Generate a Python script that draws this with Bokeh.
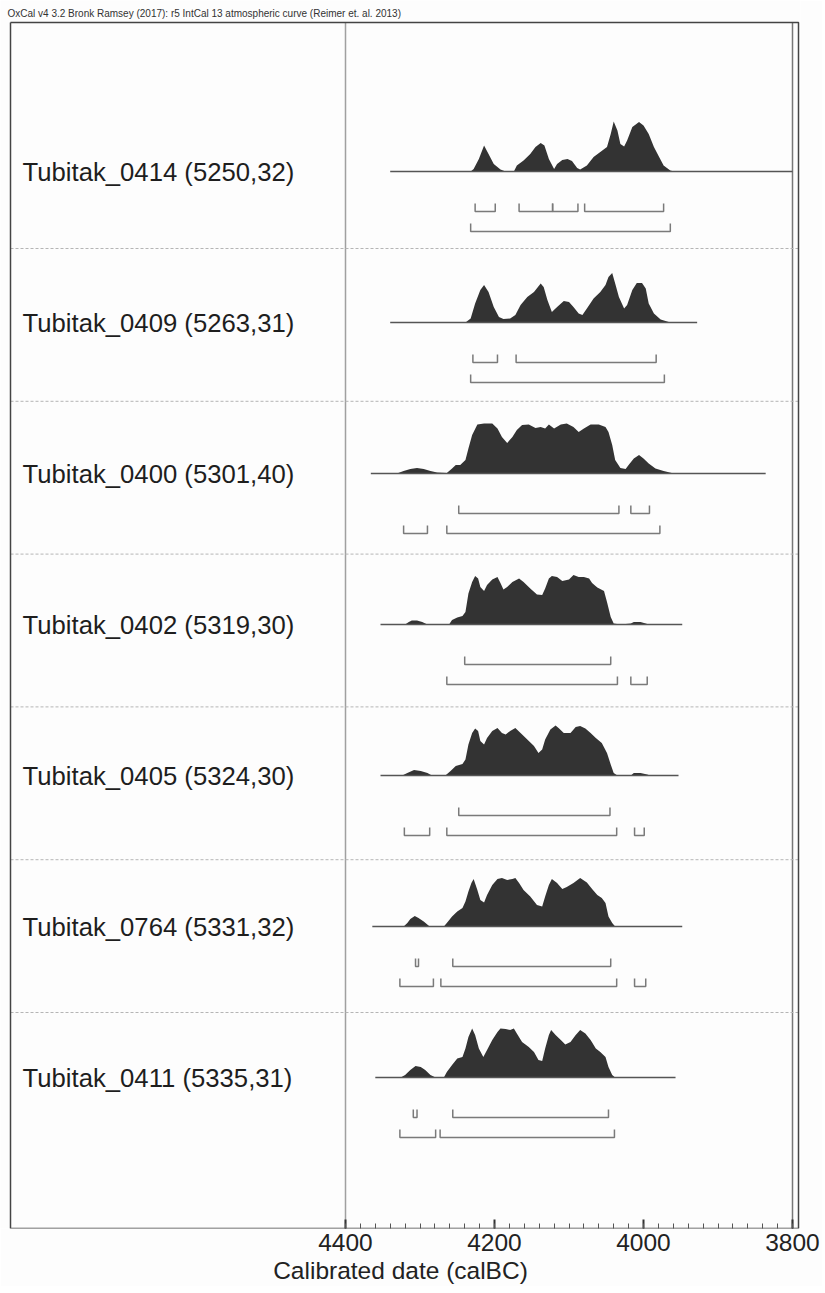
from bokeh.plotting import figure
from bokeh.models import Range1d, FixedTicker
from bokeh.core.properties import value
from bokeh.embed import file_html
from bokeh.resources import INLINE

# ---------------- data ----------------
title_text = "OxCal v4 3.2 Bronk Ramsey (2017): r5 IntCal 13 atmospheric curve (Reimer et. al. 2013)"
names = ["Tubitak_0414", "Tubitak_0409", "Tubitak_0400", "Tubitak_0402",
         "Tubitak_0405", "Tubitak_0764", "Tubitak_0411"]
bp = [5250, 5263, 5301, 5319, 5324, 5331, 5335]
err = [32, 31, 40, 30, 30, 32, 31]

major_ticks = [4400, 4200, 4000, 3800]
minor_ticks = list(range(3800, 4401, 20))
x_label = "Calibrated date (calBC)"

yrs_0414 = [4232,4228,4221,4214,4208,4201,4192,4185,4174,4170,4161,4152,4145,4138,4133,4127,4120,4116,4109,4102,4096,4089,4085,4076,4067,4058,4049,4044,4040,4035,4031,4026,4022,4015,4006,4000,3993,3986,3979,3973,3964,3959]
den_0414 = [0,.05,.25,.52,.35,.15,.04,0,0,.12,.22,.35,.49,.57,.52,.25,.05,.15,.23,.25,.21,.07,.04,.12,.29,.39,.49,.75,1.0,.82,.55,.50,.62,.89,.99,.92,.75,.49,.29,.12,.02,0]
span_0414 = [4340, 3800]
r68_0414 = [(4226, 4199), (4167, 4122), (4122, 4088), (4079, 3973)]
r95_0414 = [(4232, 3964)]

yrs_0409 = [4239,4232,4226,4219,4214,4208,4201,4194,4188,4179,4172,4165,4156,4147,4138,4134,4129,4123,4116,4107,4100,4094,4087,4082,4076,4067,4058,4051,4047,4042,4038,4033,4026,4022,4015,4009,4002,3997,3993,3986,3977,3966,3959]
den_0409 = [0,.08,.38,.65,.75,.61,.31,.11,.07,.08,.15,.35,.51,.61,.78,.71,.45,.21,.31,.43,.41,.31,.18,.15,.28,.48,.61,.75,.91,.99,.78,.51,.28,.35,.65,.79,.79,.68,.38,.18,.06,.01,0]
span_0409 = [4340, 3928]
r68_0409 = [(4229, 4196), (4171, 3983)]
r95_0409 = [(4232, 3972)]

yrs_0400 = [4331,4322,4313,4304,4295,4286,4277,4264,4257,4252,4246,4239,4235,4230,4223,4214,4203,4196,4190,4183,4176,4170,4163,4154,4145,4138,4132,4127,4120,4111,4103,4094,4087,4080,4071,4060,4051,4047,4042,4038,4031,4024,4020,4013,4006,4000,3993,3984,3973,3962,3955]
den_0400 = [0,.05,.09,.11,.09,.05,.02,.01,.10,.17,.17,.27,.50,.77,.98,1.0,1.0,.90,.73,.61,.73,.87,.97,.98,.91,.93,.90,.98,.90,.98,1.0,.93,.83,.90,.98,.98,.93,.83,.57,.27,.11,.09,.17,.30,.37,.30,.20,.10,.05,.01,0]
span_0400 = [4366, 3836]
r68_0400 = [(4248, 4033), (4017, 3992)]
r95_0400 = [(4322, 4290), (4264, 3978)]

yrs_0402 = [4320,4315,4311,4304,4297,4290,4261,4257,4250,4243,4239,4235,4230,4226,4222,4219,4214,4210,4203,4196,4192,4188,4183,4176,4167,4161,4152,4143,4136,4132,4127,4123,4116,4109,4100,4094,4087,4080,4073,4069,4062,4053,4049,4044,4040,4031,4017,4013,4004,3997,3993]
den_0402 = [0,.05,.08,.08,.05,0,0,.09,.14,.17,.25,.62,.85,.97,.92,.75,.67,.79,.90,.95,.83,.70,.75,.85,.92,.85,.72,.60,.59,.72,.92,.97,.95,.87,.90,.99,.95,.95,.92,.83,.74,.67,.45,.15,.02,0,.02,.05,.05,.02,0]
span_0402 = [4353, 3948]
r68_0402 = [(4240, 4044)]
r95_0402 = [(4264, 4035), (4017, 3995)]

yrs_0405 = [4324,4317,4308,4299,4290,4284,4266,4259,4252,4243,4239,4235,4230,4226,4222,4219,4214,4210,4203,4196,4190,4185,4179,4172,4165,4156,4147,4141,4136,4132,4125,4118,4114,4107,4098,4091,4085,4078,4071,4064,4056,4049,4044,4040,4035,4017,4013,4004,3995,3991]
den_0405 = [0,.05,.11,.09,.05,0,0,.09,.19,.23,.32,.62,.85,.94,.89,.69,.62,.75,.89,.95,.85,.82,.89,.95,.85,.72,.59,.45,.52,.72,.92,1.0,.95,.85,.85,.97,.99,.94,.85,.75,.65,.45,.22,.05,0,0,.05,.05,.02,0]
span_0405 = [4353, 3953]
r68_0405 = [(4248, 4045)]
r95_0405 = [(4321, 4287), (4264, 4036), (4012, 3999)]

yrs_0764 = [4322,4317,4313,4307,4302,4295,4287,4268,4264,4257,4250,4243,4239,4235,4231,4228,4223,4219,4214,4210,4203,4196,4190,4183,4176,4172,4167,4161,4152,4143,4136,4132,4127,4123,4116,4109,4103,4094,4085,4076,4069,4062,4056,4051,4047,4042,4038]
den_0764 = [0,.07,.15,.21,.17,.10,0,0,.07,.20,.30,.37,.50,.70,.87,.95,.73,.53,.48,.63,.83,.95,.97,.93,.95,.97,.87,.73,.60,.43,.40,.60,.83,.95,.87,.75,.79,.87,.97,.88,.75,.63,.57,.47,.20,.07,0]
span_0764 = [4364, 3948]
r68_0764 = [(4306, 4302), (4256, 4044)]
r95_0764 = [(4327, 4282), (4272, 4036), (4012, 3997)]

yrs_0411 = [4326,4320,4313,4306,4299,4293,4286,4279,4268,4264,4257,4250,4243,4239,4235,4230,4226,4221,4215,4210,4203,4196,4192,4185,4179,4174,4170,4163,4154,4147,4141,4136,4132,4127,4124,4118,4111,4105,4098,4091,4085,4078,4071,4064,4058,4051,4047,4042,4038]
den_0411 = [0,.05,.15,.23,.21,.15,.05,0,0,.11,.25,.38,.41,.58,.81,.98,.85,.58,.41,.55,.75,.91,.98,.97,.95,.98,.88,.71,.61,.51,.35,.33,.58,.85,.95,.85,.75,.66,.71,.85,.95,.88,.75,.58,.51,.41,.21,.05,0]
span_0411 = [4360, 3957]
r68_0411 = [(4309, 4304), (4256, 4047)]
r95_0411 = [(4327, 4279), (4273, 4039)]

curves = [
    (yrs_0414, den_0414, span_0414, r68_0414, r95_0414),
    (yrs_0409, den_0409, span_0409, r68_0409, r95_0409),
    (yrs_0400, den_0400, span_0400, r68_0400, r95_0400),
    (yrs_0402, den_0402, span_0402, r68_0402, r95_0402),
    (yrs_0405, den_0405, span_0405, r68_0405, r95_0405),
    (yrs_0764, den_0764, span_0764, r68_0764, r95_0764),
    (yrs_0411, den_0411, span_0411, r68_0411, r95_0411),
]

# ---------------- layout (page pixel geometry) ----------------
PX_PER_YR = 0.745
X4400 = 345.0          # page x of 4400
FRAME_L, FRAME_R = 0.0, 800.0
def yr(xpx):
    return 4400 - (xpx - X4400) / PX_PER_YR

BOX_L, BOX_R, BOX_T, BOX_B = 10.0, 798.0, 22.0, 1228.0
BASE0, ROW_STEP = 171.0, 151.0
SEP0, SEP_STEP = 248.0, 152.8
HSCALE = 50.0
OFF68, OFF95, TICK_H = 40.0, 60.0, 8.0

FW = int(FRAME_R - FRAME_L)
FH = int(BOX_B)

p = figure(frame_width=FW, frame_height=FH,
           x_range=Range1d(yr(FRAME_L), yr(FRAME_R)),
           y_range=Range1d(BOX_B, 0.0),
           output_backend="svg", toolbar_location=None,
           y_axis_location=None,
           min_border_left=0, min_border_right=22, min_border_top=0, min_border_bottom=0,
           background_fill_color="#fdfdfd", border_fill_color="#fdfdfd")
p.outline_line_color = None
p.xgrid.visible = False
p.ygrid.visible = False

ax = p.xaxis[0]
ax.ticker = FixedTicker(ticks=major_ticks, minor_ticks=minor_ticks)
ax.axis_line_color = None
ax.major_tick_in = 9
ax.major_tick_out = 0
ax.minor_tick_in = 5
ax.minor_tick_out = 0
ax.major_tick_line_color = "#333333"
ax.major_tick_line_width = 2
ax.minor_tick_line_color = "#555555"
ax.minor_tick_line_width = 1
ax.major_label_text_font = "Liberation Sans"
ax.major_label_text_font_size = "24.5px"
ax.major_label_text_color = "#222222"
ax.major_label_standoff = 5
ax.axis_label = x_label
ax.axis_label_text_font = "Liberation Sans"
ax.axis_label_text_font_size = "24.5px"
ax.axis_label_text_font_style = "normal"
ax.axis_label_text_color = "#222222"
ax.axis_label_standoff = 3

# grid-like vertical lines at 4400 and 3800
p.line([4400, 4400], [BOX_T, BOX_B], line_color="#a0a0a0", line_width=1.5)
p.line([3800, 3800], [BOX_T, BOX_B], line_color="#777777", line_width=1.5)

# row separators
seps = [SEP0 + SEP_STEP * k for k in range(len(names) - 1)]
p.multi_line([[yr(BOX_L), yr(BOX_R)] for _ in seps], [[s, s] for s in seps],
             line_color="#b5b5b5", line_width=1, line_dash="3 2")

for i, (yrs, den, span, r68, r95) in enumerate(curves):
    base = BASE0 + ROW_STEP * i
    p.varea(x=yrs, y1=[base] * len(yrs), y2=[base - HSCALE * d for d in den],
            fill_color="#333333")
    p.line(span, [base, base], line_color="#555555", line_width=1.5)
    for off, rngs in ((OFF68, r68), (OFF95, r95)):
        yl = base + off
        xs = [[a, a, b, b] for a, b in rngs]
        ys = [[yl - TICK_H, yl, yl, yl - TICK_H] for _ in rngs]
        p.multi_line(xs, ys, line_color="#7a7a7a", line_width=1.5)

labels = [f"{n} ({b},{e})" for n, b, e in zip(names, bp, err)]
p.text(x=[yr(22)] * len(labels), y=[BASE0 + ROW_STEP * i for i in range(len(labels))],
       text=labels, text_font=value("Liberation Sans"), text_font_size="25.7px",
       text_baseline="middle", text_align="left", text_color="#1e1e1e")

# frame box
p.line([yr(BOX_L), yr(BOX_R), yr(BOX_R), yr(BOX_L), yr(BOX_L)],
       [BOX_T, BOX_T, BOX_B, BOX_B, BOX_T], line_color="#444444", line_width=1.5)

# header text
p.text(x=[yr(7)], y=[12.5], text=[title_text],
       text_font=value("Liberation Sans"), text_font_size="10px",
       text_baseline="middle", text_align="left", text_color="#333333")

open("out.html", "w").write(file_html(p, INLINE))
